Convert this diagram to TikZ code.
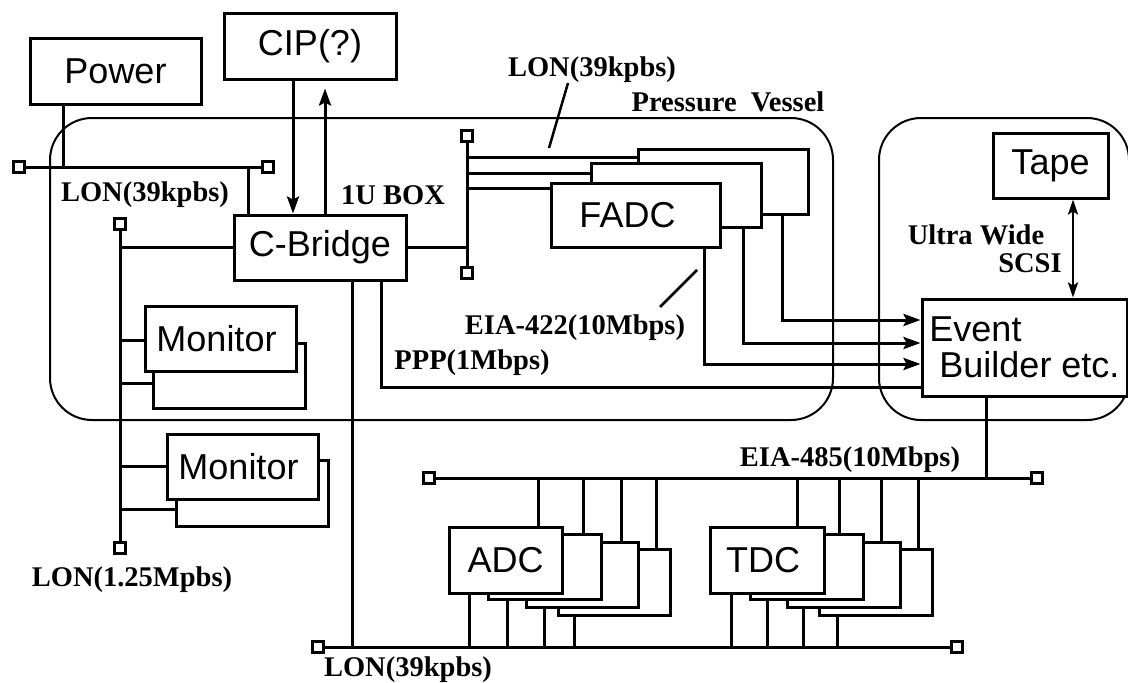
\documentclass[tikz,border=0pt]{standalone}
\usepackage{fontspec}
\setmainfont{Liberation Serif}
\newfontfamily\arialf{Liberation Sans}
\usetikzlibrary{arrows.meta}
\begin{document}
\begin{tikzpicture}[x=1pt,y=-1pt,
  blk/.style={draw, line width=3pt, fill=white, inner sep=0pt, font=\arialf\fontsize{36}{36}\selectfont},
  lbl/.style={font=\bfseries\fontsize{28.5}{30}\selectfont, inner sep=0pt},
  ln/.style={line width=3pt},
  term/.style={draw, line width=3pt, fill=white, minimum size=11pt, inner sep=0pt},
  vessel/.style={draw, line width=2pt, rounded corners=42pt},
  arr/.style={ln, -{Stealth[length=17pt,width=12pt,inset=3pt]}},
  darr/.style={line width=2.5pt, {Stealth[length=15pt,width=10pt,inset=3pt]}-{Stealth[length=15pt,width=10pt,inset=3pt]}},
]
\useasboundingbox (0,0) rectangle (1128,683);
% enclosures
\draw[vessel] (50,118) rectangle (833,420);
\draw[vessel] (879,118) rectangle (1129,420);

% boxes
\node[blk, minimum width=171pt, minimum height=66pt] (power) at (115.5,71) {Power};
\node[blk, minimum width=172pt, minimum height=66pt] (cip) at (310,46) {CIP(?)};
\node[blk, minimum width=172pt, minimum height=65pt] (cb) at (320,247.5) {C-Bridge};
\node[blk, minimum width=170pt, minimum height=65pt] (fb) at (723,181.5) {};
\node[blk, minimum width=170pt, minimum height=64pt] (fm) at (676,195) {};
\node[blk, minimum width=169pt, minimum height=64pt] (ff) at (635.5,215) {\hspace*{-16pt}FADC};
\node[blk, minimum width=152pt, minimum height=65pt] (m1b) at (229,375.5) {};
\node[blk, minimum width=151pt, minimum height=65pt] (m1) at (220.5,338.5) {Monitor\hspace*{8pt}};
\node[blk, minimum width=152pt, minimum height=66pt] (m2b) at (252,493) {};
\node[blk, minimum width=151pt, minimum height=65pt] (m2) at (242.5,466.5) {Monitor\hspace*{8pt}};
\node[blk, minimum width=115pt, minimum height=65pt] (tape) at (1050.5,165.5) {Tape};
\node[blk, minimum width=205pt, minimum height=97pt, align=left] (eb) at (1024.5,347.5) {Event\\ \ Builder etc.};
% ADC stack
\node[blk, minimum width=112pt, minimum height=66pt] (a4) at (614,582) {};
\node[blk, minimum width=112pt, minimum height=65pt] (a3) at (582,574.5) {};
\node[blk, minimum width=113pt, minimum height=65pt] (a2) at (544.5,566.5) {};
\node[blk, minimum width=113pt, minimum height=66pt] (a1) at (505.5,560) {ADC};
% TDC stack
\node[blk, minimum width=113pt, minimum height=66pt] (d4) at (875.5,582) {};
\node[blk, minimum width=113pt, minimum height=65pt] (d3) at (843.5,574.5) {};
\node[blk, minimum width=113pt, minimum height=65pt] (d2) at (806.5,566.5) {};
\node[blk, minimum width=114pt, minimum height=66pt] (d1) at (767,560) {\hspace*{-8pt}TDC};

% terminators
\node[term] (t1) at (19,167) {};
\node[term] (t2) at (268,167) {};
\node[term] (t3) at (120,224) {};
\node[term] (t4) at (120,548) {};
\node[term] (t5) at (467,136) {};
\node[term] (t6) at (467,273) {};
\node[term] (t7) at (318,647) {};
\node[term] (t8) at (957,647) {};
\node[term] (t9) at (429,478) {};
\node[term] (t10) at (1037,478) {};

% LON top bus
\draw[ln] (t1) -- (t2);
\draw[ln] (power.south -| 63,0) -- (t1 -| 63,0);
\draw[ln] (t2 -| 248,0) -- (cb.north -| 248,0);
% CIP
\draw[arr] (cip.south -| 293,0) -- (cb.north -| 293,0);
\draw[arr, shorten >=8pt] (cb.north -| 325,0) -- (cip.south -| 325,0);
% LON 1.25 bus
\draw[ln] (t3) -- (t4);
\draw[ln] (cb.west) -- (cb.west -| t3);
\draw[ln] (t3 |- 0,340) -- (m1.west |- 0,340);
\draw[ln] (t3 |- 0,383) -- (m1b.west |- 0,383);
\draw[ln] (t3 |- 0,466) -- (m2.west |- 0,466);
\draw[ln] (t3 |- 0,509) -- (m2b.west |- 0,509);
% FADC bus
\draw[ln] (t5) -- (t6);
\draw[ln] (cb.east) -- (cb.east -| t5);
\draw[ln] (t5 |- 0,157) -- (fb.west |- 0,157);
\draw[ln] (t5 |- 0,173) -- (fm.west |- 0,173);
\draw[ln] (t5 |- 0,188) -- (ff.west |- 0,188);
% FADC outputs
\draw[arr] (fb.south -| 782,0) |- (eb.west |- 0,320);
\draw[arr] (fm.south -| 743,0) |- (eb.west |- 0,343);
\draw[arr] (ff.south -| 704,0) |- (eb.west |- 0,364);
% PPP
\draw[ln] (cb.south -| 381,0) |- (eb.west |- 0,387);
% LON bottom
\draw[ln] (cb.south -| 352,0) -- (t7 -| 352,0);
\draw[ln] (t7) -- (t8);
% EIA-485
\draw[ln] (t9) -- (t10);
\draw[ln] (eb.south -| 986,0) -- (t10 -| 986,0);
% ADC connections
\draw[ln] (t9 -| 538,0) -- (a1.north -| 538,0);
\draw[ln] (t9 -| 583,0) -- (a2.north -| 583,0);
\draw[ln] (t9 -| 621,0) -- (a3.north -| 621,0);
\draw[ln] (t9 -| 656,0) -- (a4.north -| 656,0);
\draw[ln] (a1.south -| 469,0) -- (t7 -| 469,0);
\draw[ln] (a2.south -| 507,0) -- (t7 -| 507,0);
\draw[ln] (a3.south -| 544,0) -- (t7 -| 544,0);
\draw[ln] (a4.south -| 574,0) -- (t7 -| 574,0);
% TDC connections
\draw[ln] (t9 -| 797,0) -- (d1.north -| 797,0);
\draw[ln] (t9 -| 839,0) -- (d2.north -| 839,0);
\draw[ln] (t9 -| 881,0) -- (d3.north -| 881,0);
\draw[ln] (t9 -| 918,0) -- (d4.north -| 918,0);
\draw[ln] (d1.south -| 731,0) -- (t7 -| 731,0);
\draw[ln] (d2.south -| 767,0) -- (t7 -| 767,0);
\draw[ln] (d3.south -| 803,0) -- (t7 -| 803,0);
\draw[ln] (d4.south -| 837,0) -- (t7 -| 837,0);
% Tape SCSI
\draw[darr] (tape.south -| 1073,0) -- (eb.north -| 1073,0);

% label pointers
\coordinate (s1a) at (568,83);
\coordinate (s1b) at (549,148);
\coordinate (s2a) at (697,270);
\coordinate (s2b) at (660,307);
\draw[line width=2.5pt] (s1a) -- (s1b);
\draw[line width=2.5pt] (s2a) -- (s2b);

% labels
\node[lbl] (l1) at (145,195) {LON(39kpbs)};
\node[lbl] (l2) at (393,195) {1U BOX};
\node[lbl] (l3) at (592,70) {LON(39kpbs)};
\node[lbl] (l4) at (728,102) {Pressure\ \ Vessel};
\node[lbl] (l5) at (976,235) {Ultra\ Wide};
\node[lbl] (l6) at (1030,263) {SCSI};
\node[lbl] (l7) at (575,328) {EIA-422(10Mbps)};
\node[lbl] (l8) at (472,363) {PPP(1Mbps)};
\node[lbl] (l9) at (132,580) {LON(1.25Mpbs)};
\node[lbl] (l10) at (850,460) {EIA-485(10Mbps)};
\node[lbl] (l11) at (408,670) {LON(39kpbs)};
\end{tikzpicture}
\end{document}
